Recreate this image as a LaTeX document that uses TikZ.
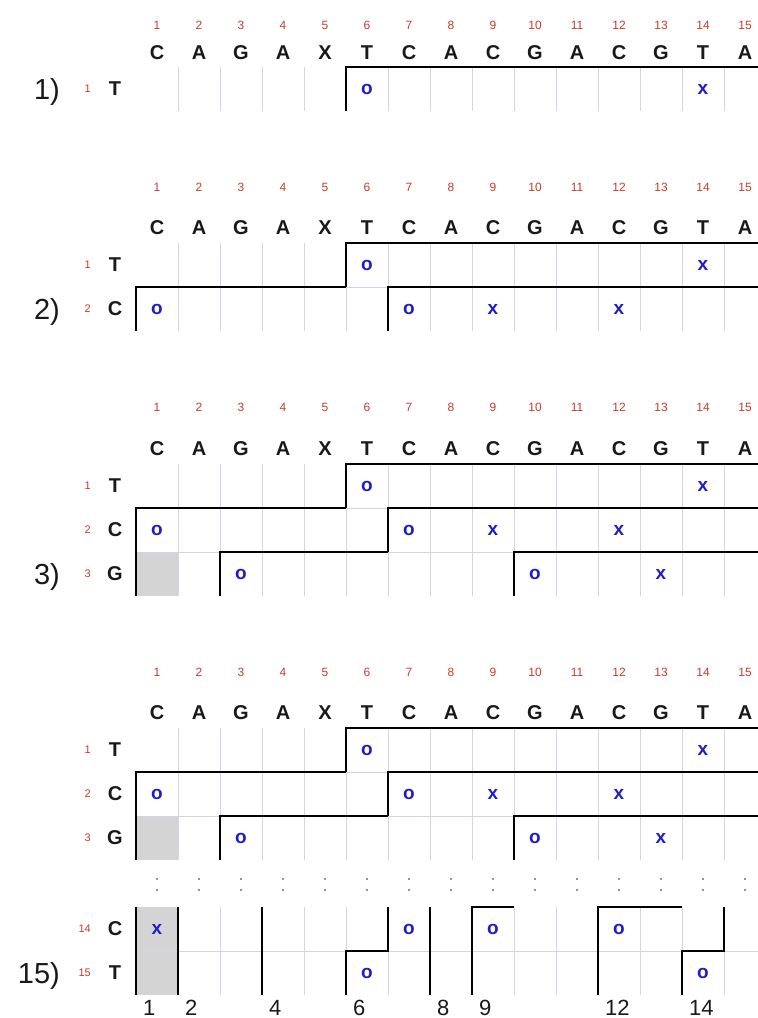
\documentclass[tikz,border=0pt]{standalone}
\usepackage{fontspec}
\setmainfont{Liberation Sans}
\definecolor{numred}{RGB}{200,60,40}
\definecolor{markblue}{RGB}{30,30,200}
\definecolor{gridc}{RGB}{212,212,228}
\definecolor{cellgray}{RGB}{212,212,212}
\definecolor{ink}{RGB}{25,25,25}
\definecolor{dotc}{RGB}{110,110,110}
\tikzset{
  colnum/.style={text=numred, font=\fontsize{12}{12}\selectfont, inner sep=0pt},
  seqlet/.style={text=ink, font=\fontsize{20}{20}\selectfont\bfseries, inner sep=0pt},
  rownum/.style={text=numred, font=\fontsize{11}{11}\selectfont, inner sep=0pt, anchor=east},
  rowlet/.style={text=ink, font=\fontsize{20}{20}\selectfont\bfseries, inner sep=0pt},
  steplab/.style={text=ink, font=\fontsize{29}{29}\selectfont, inner sep=0pt, anchor=base east},
  markstyle/.style={text=markblue, font=\fontsize{19}{19}\selectfont\bfseries, inner sep=0pt},
  gridline/.style={draw=gridc, line width=0.9pt},
  contour/.style={draw=black, line width=1.6pt, line join=miter},
  cellfill/.style={fill=cellgray, draw=none},
  botlab/.style={text=ink, font=\fontsize{22}{22}\selectfont, inner sep=0pt, anchor=base west},
  dotmark/.style={fill=dotc, draw=none, circle, inner sep=0pt, minimum size=2.2pt}
}
\newcommand\panelhead[3]{%
  \foreach \k/\ch in {1/C,2/A,3/G,4/A,5/X,6/T,7/C,8/A,9/C,10/G,11/A,12/C,13/G,14/T,15/A} {
    \node[colnum] (n#1-\k) at ({157+42*(\k-1)},#2) {\k};
    \node[seqlet] (s#1-\k) at ({157+42*(\k-1)},#3) {\ch};
  }}
\newcommand\colgrid[2]{\foreach \k in {1,...,15} {\draw[gridline] ({136+42*\k},#1) -- ({136+42*\k},#2);}}
\newcommand\rowline[1]{\draw[gridline] (136,#1) -- (766,#1);}
\newcommand\putmark[4]{\node[markstyle] (#1) at ({157+42*(#2-1)},#3) {#4};}
\newcommand\rowlabel[4]{\node[rownum] (rn#1) at (91,#2) {#3}; \node[rowlet] (rl#1) at (115,#2) {#4};}
\newcommand\firstrows[2]{% #1 top, #2 number of rows (2 or 3)
  \draw[contour] (346,#1+44) -- (346,#1) -- (766,#1);
  \draw[contour] (136,#1+88) -- (136,#1+44) -- (346,#1+44);
  \draw[contour] (388,#1+88) -- (388,#1+44) -- (766,#1+44);
  \ifnum#2>2
  \draw[contour] (136,#1+132) -- (136,#1+88);
  \draw[contour] (220,#1+132) -- (220,#1+88) -- (388,#1+88);
  \draw[contour] (514,#1+132) -- (514,#1+88) -- (766,#1+88);
  \fi}
\begin{document}
\begin{tikzpicture}[x=1pt,y=-1pt]
\useasboundingbox (0,0) rectangle (758,1018);
\fill[white] (0,0) rectangle (758,1018);

% ---------------- Panel 1 ----------------
\colgrid{67}{111}
\draw[contour] (346,111) -- (346,67) -- (766,67);
\panelhead{a}{25}{53}
\node[steplab] (lab1) at (60,99) {1)};
\rowlabel{a1}{89}{1}{T}
\putmark{ma1-6}{6}{89}{o}
\putmark{ma1-14}{14}{89}{x}

% ---------------- Panel 2 ----------------
\colgrid{243}{331}
\rowline{287}
\firstrows{243}{2}
\panelhead{b}{187}{228}
\node[steplab] (lab2) at (60,319) {2)};
\rowlabel{b1}{265}{1}{T}
\rowlabel{b2}{309}{2}{C}
\putmark{mb1-6}{6}{265}{o}
\putmark{mb1-14}{14}{265}{x}
\putmark{mb2-1}{1}{309}{o}
\putmark{mb2-7}{7}{309}{o}
\putmark{mb2-9}{9}{309}{x}
\putmark{mb2-12}{12}{309}{x}

% ---------------- Panel 3 ----------------
\fill[cellfill] (136,552) rectangle (178,596);
\colgrid{464}{596}
\rowline{508}
\rowline{552}
\firstrows{464}{3}
\panelhead{c}{407}{449}
\node[steplab] (lab3) at (60,584) {3)};
\rowlabel{c1}{486}{1}{T}
\rowlabel{c2}{530}{2}{C}
\rowlabel{c3}{574}{3}{G}
\putmark{mc1-6}{6}{486}{o}
\putmark{mc1-14}{14}{486}{x}
\putmark{mc2-1}{1}{530}{o}
\putmark{mc2-7}{7}{530}{o}
\putmark{mc2-9}{9}{530}{x}
\putmark{mc2-12}{12}{530}{x}
\putmark{mc3-3}{3}{574}{o}
\putmark{mc3-10}{10}{574}{o}
\putmark{mc3-13}{13}{574}{x}

% ---------------- Panel 4 ----------------
\fill[cellfill] (136,816) rectangle (178,860);
\fill[cellfill] (136,907) rectangle (178,995);
\colgrid{728}{860}
\colgrid{907}{995}
\rowline{772}
\rowline{816}
\rowline{951}
\firstrows{728}{3}
\draw[contour] (136,995) -- (136,907);
\draw[contour] (178,995) -- (178,907);
\draw[contour] (262,995) -- (262,907);
\draw[contour] (346,995) -- (346,951) -- (388,951) -- (388,907);
\draw[contour] (430,995) -- (430,907);
\draw[contour] (472,995) -- (472,907) -- (514,907);
\draw[contour] (598,995) -- (598,907) -- (682,907);
\draw[contour] (682,995) -- (682,951) -- (724,951) -- (724,907);
\panelhead{d}{672}{713}
\rowlabel{d1}{750}{1}{T}
\rowlabel{d2}{794}{2}{C}
\rowlabel{d3}{838}{3}{G}
\rowlabel{d14}{929}{14}{C}
\rowlabel{d15}{973}{15}{T}
\node[steplab] (lab15) at (60,983) {15)};
\putmark{md1-6}{6}{750}{o}
\putmark{md1-14}{14}{750}{x}
\putmark{md2-1}{1}{794}{o}
\putmark{md2-7}{7}{794}{o}
\putmark{md2-9}{9}{794}{x}
\putmark{md2-12}{12}{794}{x}
\putmark{md3-3}{3}{838}{o}
\putmark{md3-10}{10}{838}{o}
\putmark{md3-13}{13}{838}{x}
\putmark{md14-1}{1}{929}{x}
\putmark{md14-7}{7}{929}{o}
\putmark{md14-9}{9}{929}{o}
\putmark{md14-12}{12}{929}{o}
\putmark{md15-6}{6}{973}{o}
\putmark{md15-14}{14}{973}{o}
\foreach \k in {1,...,15} {
  \node[dotmark] (dt\k) at ({157+42*(\k-1)},879) {};
  \node[dotmark] (db\k) at ({157+42*(\k-1)},890) {};
}
\foreach \b/\t in {136/1,178/2,262/4,346/6,430/8,472/9,598/12,682/14} {
  \node[botlab] (bl\t) at (\b+7,1015) {\t};
}
\end{tikzpicture}
\end{document}
